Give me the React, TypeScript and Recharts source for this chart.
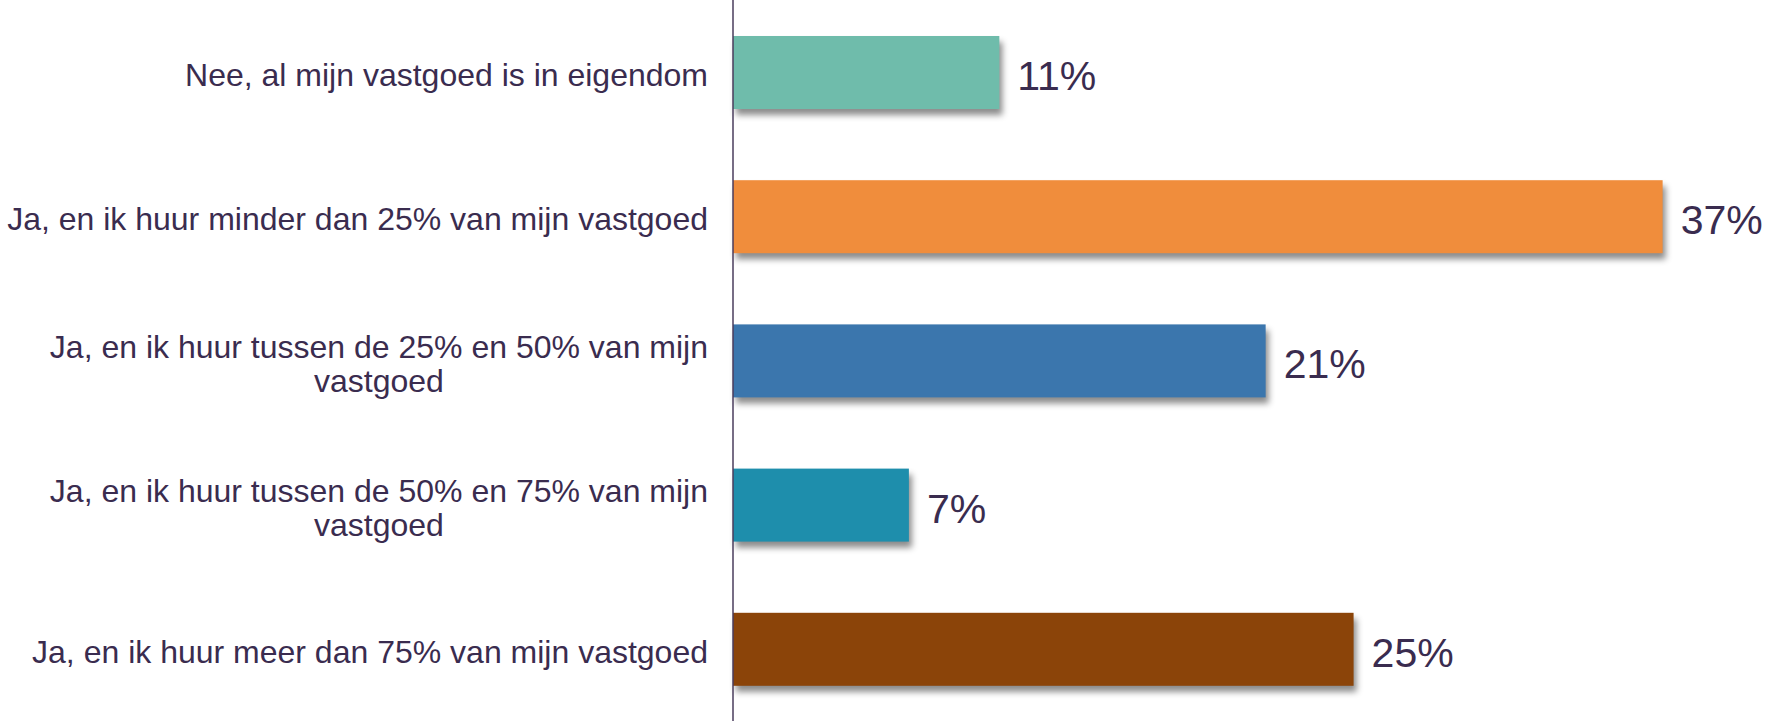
import React from "react";
import { BarChart, Bar, XAxis, YAxis, Cell, LabelList } from "recharts";

const categories = [
  "Nee, al mijn vastgoed is in eigendom",
  "Ja, en ik huur minder dan 25% van mijn vastgoed",
  "Ja, en ik huur tussen de 25% en 50% van mijn vastgoed",
  "Ja, en ik huur tussen de 50% en 75% van mijn vastgoed",
  "Ja, en ik huur meer dan 75% van mijn vastgoed",
];
const values = [10.6, 37.0, 21.2, 7.0, 24.7];
const valueLabels = ["11%", "37%", "21%", "7%", "25%"];
const colors = ["#6fbcab", "#f08d3c", "#3b76ad", "#1e8eac", "#8b4409"];

const data = categories.map((c, i) => ({
  name: c,
  value: values[i],
  label: valueLabels[i],
}));

const FONT = "'Liberation Sans', Arial, sans-serif";
const TEXT = "#3a2c4f";
const LABEL_SIZE = 32;
const MAX_W = 720;

let ctx: CanvasRenderingContext2D | null = null;
function measure(s: string): number {
  if (!ctx) {
    const c = document.createElement("canvas");
    ctx = c.getContext("2d");
  }
  if (!ctx) return s.length * LABEL_SIZE * 0.5;
  ctx.font = `${LABEL_SIZE}px 'Liberation Sans'`;
  return ctx.measureText(s).width;
}

function wrap(s: string): string[] {
  const words = s.split(" ");
  const lines: string[] = [];
  let cur = "";
  for (const w of words) {
    const t = cur ? cur + " " + w : w;
    if (measure(t) > MAX_W && cur) {
      lines.push(cur);
      cur = w;
    } else cur = t;
  }
  if (cur) lines.push(cur);
  return lines;
}

const Tick = (props: any) => {
  const { x, y, payload } = props;
  const lines = wrap(payload.value);
  const right = x - 17;
  const lh = 34;
  const startY = y + 3 - ((lines.length - 1) * lh) / 2;
  const firstW = measure(lines[0]);
  const center = right - firstW / 2;
  return (
    <g>
      {lines.map((l, i) => (
        <text
          key={i}
          x={i === 0 ? right : center}
          y={startY + i * lh}
          textAnchor={i === 0 ? "end" : "middle"}
          dominantBaseline="central"
          fontSize={LABEL_SIZE}
          fontFamily={FONT}
          fill={TEXT}
        >
          {l}
        </text>
      ))}
    </g>
  );
};

const ShadowBar = (props: any) => {
  const { x, y, width, height, fill } = props;
  return (
    <rect
      x={x}
      y={y}
      width={width}
      height={height}
      fill={fill}
      style={{ filter: "drop-shadow(3px 6px 3px rgba(0,0,0,0.45))" }}
    />
  );
};

export default function App() {
  return (
    <div style={{ position: "absolute", left: 0, top: 0, background: "#fff" }}>
      <BarChart
        width={1769}
        height={721}
        data={data}
        layout="vertical"
        margin={{ top: 0, right: 31, bottom: 0, left: 0 }}
        barSize={73}
      >
        <XAxis type="number" domain={[0, 40]} hide />
        <YAxis
          type="category"
          dataKey="name"
          width={733}
          axisLine={{ stroke: "#4a3d5c", strokeWidth: 1.5 }}
          tickLine={false}
          tick={<Tick />}
          interval={0}
        />
        <Bar dataKey="value" isAnimationActive={false} shape={<ShadowBar />}>
          {data.map((d, i) => (
            <Cell key={i} fill={colors[i]} />
          ))}
          <LabelList
            dataKey="label"
            position="right"
            offset={18}
            dy={3}
            style={{ fontSize: 41, fontFamily: FONT, fill: TEXT }}
          />
        </Bar>
      </BarChart>
    </div>
  );
}
